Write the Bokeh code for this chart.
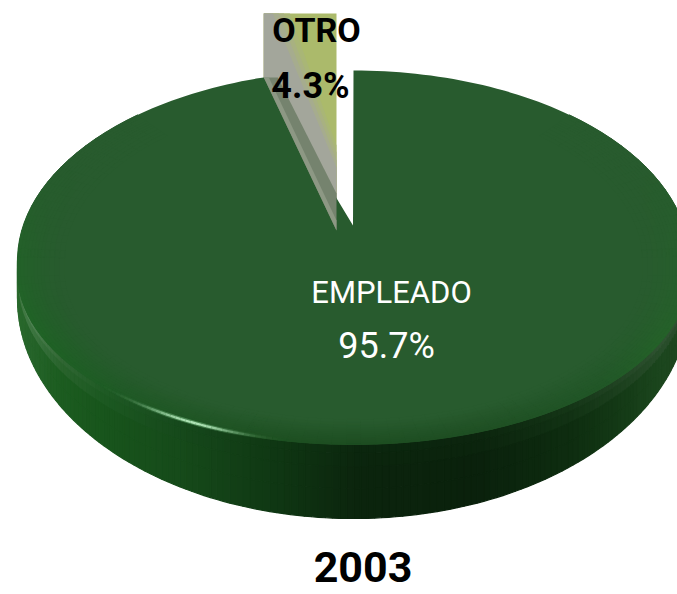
import numpy as np
from bokeh.plotting import figure
from bokeh.models import Range1d
from bokeh.core.properties import value
from bokeh.embed import file_html
from bokeh.resources import INLINE

# ---- data ----
categories = ["EMPLEADO", "OTRO"]
shares = [95.7, 4.3]
year_label = "2003"

FONT = "Roboto"
W, H = 677, 594
CX, RX = 353.0, 336.0
BACK_C, BACK_R = 260.0, 190.0
FRONT_C, FRONT_R = 272.0, 172.0
BOT_C, BOT_R = 298.0, 220.0
APEX = (352.5, 225.0)

p = figure(width=W, height=H, x_range=Range1d(0, W), y_range=Range1d(H, 0),
           output_backend="svg", toolbar_location=None, min_border=0,
           outline_line_color=None, background_fill_color="white", border_fill_color="white")
p.xaxis.visible = False
p.yaxis.visible = False
p.grid.visible = False


def hexc(c):
    return "#%02x%02x%02x" % tuple(int(np.clip(round(v), 0, 255)) for v in c)


def lerp_table(t, xs, cols):
    cols = np.array(cols, float)
    return np.array([np.interp(t, xs, cols[:, i]) for i in range(3)])


def top_xy(th, s=1.0):
    x = CX + RX * s * np.sin(th)
    c = np.where(np.cos(th) > 0, BACK_C, FRONT_C)
    r = np.where(np.cos(th) > 0, BACK_R, FRONT_R)
    y = 264 + (c - 264) * s - r * s * np.cos(th)
    return x, y


def bot_xy(th):
    return CX + RX * np.sin(th), BOT_C - BOT_R * np.cos(th)


main_sweep = 2 * np.pi * shares[0] / sum(shares)
other_sweep = 2 * np.pi * shares[1] / sum(shares)

# ---- exploded OTRO slice, behind the main pie ----
ex_left = CX - RX * np.sin(other_sweep)
ex_right = 336.0
top_y = 13.0
low_y = 230.0
p.patch([ex_left, ex_right, ex_right, ex_left], [top_y, top_y, low_y, 80], color="#abba6b", line_width=0)
for off, yr, col in [(26, 145, "#a9b676"), (20, 152, "#a8b181"), (15, 160, "#a6ac8e"), (9, 167, "#a3a69b")]:
    p.patch([ex_left, ex_left + off, ex_right, ex_right, ex_left],
            [top_y, top_y, yr, low_y, 80], color=col, line_width=0)

# ---- side wall ----
x_tab = [17, 28, 60, 100, 180, 260, 360, 480, 570, 620, 660, 690]
side_up = [(85, 135, 88), (85, 135, 88), (52, 105, 55), (32, 92, 38), (22, 72, 28), (16, 58, 20),
           (11, 38, 14), (12, 38, 14), (22, 55, 24), (36, 70, 38), (50, 84, 52), (50, 80, 52)]
side_lo = [(42, 105, 45), (38, 100, 42), (28, 92, 32), (24, 85, 28), (22, 74, 26), (16, 58, 20),
           (11, 36, 13), (10, 33, 12), (14, 45, 16), (20, 58, 22), (28, 70, 30), (30, 70, 30)]
ths = np.deg2rad(np.arange(90, 272, 1.2))
levels = np.array([0, 0.12, 0.3, 0.6, 1.0])
sx, sy, scol = [], [], []
for a, b in zip(ths[:-1], ths[1:]):
    xa, ya = top_xy(a)
    xb, yb = top_xy(b)
    xa2, ya2 = bot_xy(a)
    xb2, yb2 = bot_xy(b)
    mx = (xa + xb) / 2
    for l0, l1 in zip(levels[:-1], levels[1:]):
        sx.append([xa, xb, xb, xa])
        sy.append([ya + (ya2 - ya) * l0, yb + (yb2 - yb) * l0, yb + (yb2 - yb) * l1, ya + (ya2 - ya) * l1])
        m = (l0 + l1) / 2
        up = lerp_table(mx, x_tab, side_up)
        lo = lerp_table(mx, x_tab, side_lo)
        scol.append(hexc(up + (lo - up) * min(1, m / 0.45)))
p.patches(sx, sy, fill_color=scol, line_color=scol, line_width=1.2)

# ---- top face of the main slice ----
arc = np.linspace(0, main_sweep, 260)
face_x, face_y = top_xy(arc)
p.patch([APEX[0], *face_x], [APEX[1], *face_y], fill_color="#285b2e", line_color=None)

# rim shading, fading gently into the face
rx_t = [17, 50, 120, 250, 353, 480, 600, 660, 690]
rim_col = [(30, 104, 36), (30, 98, 36), (30, 90, 36), (28, 80, 32), (28, 76, 32),
           (30, 78, 34), (32, 86, 38), (36, 98, 40), (36, 98, 40)]
inner_col = np.array((40, 91, 46), float)
scales = np.array([1.0, 0.99, 0.98, 0.97, 0.96, 0.95, 0.94, 0.93, 0.92, 0.905, 0.89, 0.875, 0.86])
tx, ty, tcol = [], [], []
rim_arc = np.linspace(np.deg2rad(40), np.deg2rad(320), 110)
for a, b in zip(rim_arc[:-1], rim_arc[1:]):
    mid = (a + b) / 2
    front = np.clip(0.55 - np.cos(mid), 0, 1)
    for s0, s1 in zip(scales[:-1], scales[1:]):
        xa0, ya0 = top_xy(a, s0)
        xb0, yb0 = top_xy(b, s0)
        xa1, ya1 = top_xy(a, s1)
        xb1, yb1 = top_xy(b, s1)
        edge = lerp_table((xa0 + xb0) / 2, rx_t, rim_col)
        w = front * (1 - (1 - s1) / 0.14)
        tx.append([xa0, xb0, xb1, xa1])
        ty.append([ya0, yb0, yb1, ya1])
        tcol.append(hexc(inner_col + (edge - inner_col) * np.clip(w, 0, 1)))
p.patches(tx, ty, fill_color=tcol, line_color=tcol, line_width=1.0)

# specular highlight on the front-left rim
hl = np.deg2rad(np.arange(182, 262, 1.0))
hl_x, hl_y = top_xy(hl)
for i in range(len(hl) - 1):
    mx = (hl_x[i] + hl_x[i + 1]) / 2
    a = float(np.exp(-((mx - 192) / 42) ** 2))
    p.line(hl_x[i:i + 2], hl_y[i:i + 2] - 1, line_color="#7fc48a", line_alpha=0.45 * a, line_width=4.5)
    p.line(hl_x[i:i + 2], hl_y[i:i + 2] - 1, line_color="#b4e8bb", line_alpha=0.95 * a, line_width=2.2)

# ---- cut wall of OTRO lying over the green ----
band_top = 193.0
p.patch([ex_left, ex_right, ex_right, ex_left + 14], [77, low_y, band_top, 77], fill_color="#75836e", line_color=None)
p.patch([ex_left, ex_right, ex_right, ex_left + 5], [77, low_y, low_y - 10, 77], fill_color="#8d9884", line_color=None)


# ---- labels ----
def label(x, y, txt, size, color, style):
    p.text([x], [y - 0.36 * size], text=[txt], text_font=value(FONT), text_font_size=f"{size}px",
           text_color=color, text_font_style=style, text_align="center", text_baseline="middle")


label(316, 42, categories[1], 34, "#000000", "bold")
label(310, 98, f"{shares[1]}%", 36, "#000000", "bold")
label(391, 303, categories[0], 31, "#ffffff", "normal")
label(386, 358, f"{shares[0]}%", 36, "#ffffff", "normal")
label(362.5, 582, year_label, 43, "#000000", "bold")

open("out.html", "w").write(file_html(p, INLINE))
